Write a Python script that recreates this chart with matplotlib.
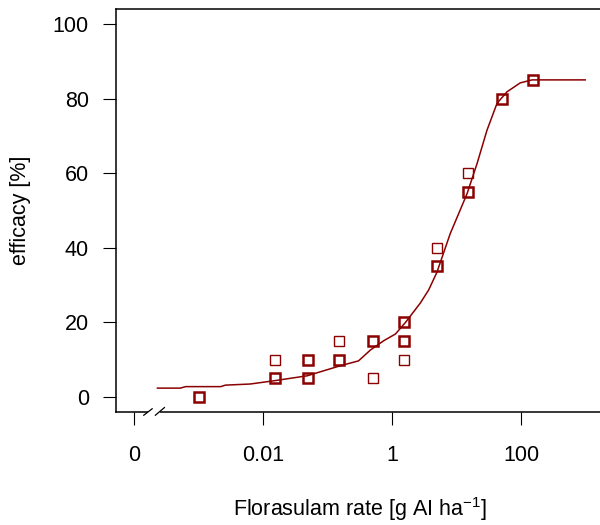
import numpy as np
import matplotlib
matplotlib.use("Agg")
import matplotlib.pyplot as plt
import matplotlib.transforms as mtransforms

plt.rcParams['font.family'] = ['Liberation Sans', 'DejaVu Sans']
plt.rcParams['mathtext.fontset'] = 'custom'
plt.rcParams['mathtext.rm'] = 'Liberation Sans'
plt.rcParams['mathtext.it'] = 'Liberation Sans'

# observed efficacy (each row one plot; repeated rows overlap)
dose = [0.001, 0.001,
        0.015, 0.015, 0.015,
        0.05, 0.05, 0.05, 0.05,
        0.15, 0.15, 0.15,
        0.5, 0.5, 0.5,
        1.5, 1.5, 1.5, 1.5, 1.5,
        5, 5, 5,
        15, 15, 15,
        50, 50,
        150, 150]
efficacy = [0, 0,
            5, 5, 10,
            5, 5, 10, 10,
            10, 10, 15,
            15, 15, 5,
            20, 20, 15, 15, 10,
            40, 35, 35,
            60, 55, 55,
            80, 80,
            85, 85]

# fitted dose-response curve
curve_dose = [0.00023, 0.00052, 0.00063, 0.0022, 0.0026, 0.0063, 0.0144,
              0.048, 0.157, 0.30, 0.458, 0.736, 1.12, 1.60, 2.72, 3.66, 4.93,
              7.9, 14.4, 20.6, 29.3, 41.9, 59.8, 96, 146, 975]
curve_eff = [2.4, 2.4, 2.8, 2.8, 3.2, 3.5, 4.35,
             5.7, 8.4, 9.7, 12.6, 15.1, 16.9, 20.0, 25.2, 28.7, 33.5,
             43.8, 54.5, 62.6, 71.5, 78.7, 81.8, 84.2, 85.0, 85.0]

x_ticks = [1e-4, 0.01, 1, 100]
x_labels = ['0', '0.01', '1', '100']
y_ticks = [0, 20, 40, 60, 80, 100]

col = '#8B0000'
fs = 15.5

fig = plt.figure(figsize=(6, 5.25), dpi=100)
ax = fig.add_axes([116 / 600, 113 / 525, 488 / 600, 403 / 525])

ax.set_xscale('log')
ax.set_xlim(10 ** -4.28, 10 ** 3.28)
ax.set_ylim(-4, 104)

ax.plot(curve_dose, curve_eff, color=col, lw=1.1, zorder=2)

# overlapping replicates look heavier in the original
pts, counts = np.unique(np.column_stack([dose, efficacy]), axis=0, return_counts=True)
for (d, e), n in zip(pts, counts):
    ax.plot(d, e, 's', ms=7.6, mfc='none', mec=col, mew=1.0 if n == 1 else 1.8, zorder=3)

ax.set_xticks(x_ticks)
ax.set_xticklabels(x_labels)
ax.xaxis.set_minor_locator(matplotlib.ticker.NullLocator())
ax.set_yticks(y_ticks)

ax.tick_params(axis='both', direction='out', length=9.5, width=0.8, labelsize=fs, colors='black')
ax.tick_params(axis='x', pad=14)
ax.tick_params(axis='y', pad=10)

for s in ax.spines.values():
    s.set_linewidth(1.1)

ax.set_xlabel(r'Florasulam rate [g AI ha$^{-1}$]', fontsize=fs, labelpad=21)
ax.set_ylabel('efficacy [%]', fontsize=fs, labelpad=16)

# axis break marks near the zero dose
trans = mtransforms.blended_transform_factory(ax.transData, ax.transAxes)
ax.fill_between([10 ** -3.78, 10 ** -3.6], -0.006, 0.006, color='white',
                transform=trans, clip_on=False, zorder=5, lw=0)
ax.plot([10 ** -3.85, 10 ** -3.72], [-0.008, 0.008], color='black', lw=0.9,
        transform=trans, clip_on=False, zorder=6)
ax.plot([10 ** -3.67, 10 ** -3.53], [-0.008, 0.011], color='black', lw=0.9,
        transform=trans, clip_on=False, zorder=6)

fig.savefig('out.png', dpi=100)
